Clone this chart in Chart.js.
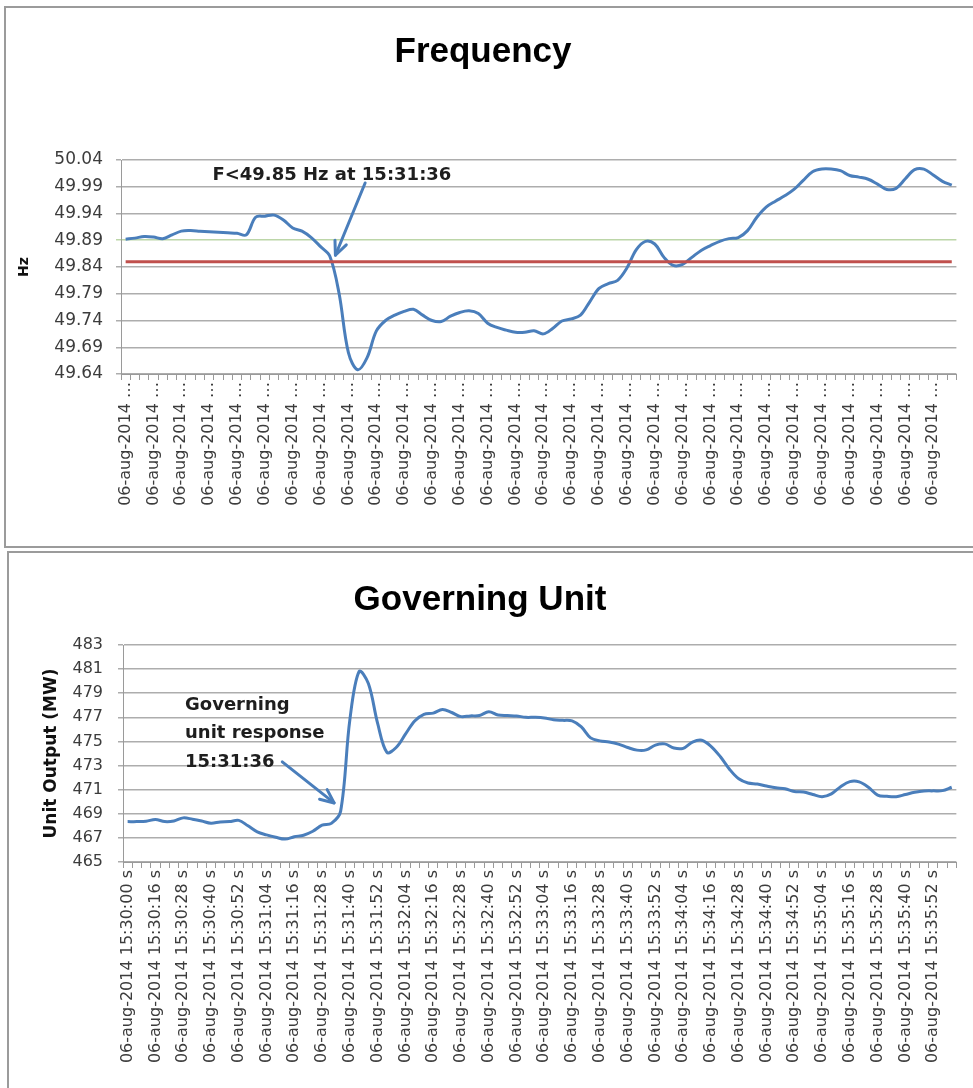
<!DOCTYPE html>
<html><head><meta charset="utf-8">
<script src="https://cdn.jsdelivr.net/npm/chart.js@4.4.1/dist/chart.umd.min.js"></script>
<style>
html,body{margin:0;padding:0;background:#fff;width:973px;height:1088px;overflow:hidden;position:relative}
canvas{position:absolute;left:0}
#c1{top:0}
#c2{top:548px}
.frame{position:absolute;border:2px solid #9b9b9b;pointer-events:none}
#f1{left:4px;top:6px;width:990px;height:538px}
#f2{left:7px;top:551px;width:990px;height:560px}
</style></head><body>
<canvas id="c1" width="973" height="548"></canvas>
<canvas id="c2" width="973" height="540"></canvas>
<div class="frame" id="f1"></div><div class="frame" id="f2"></div>
<script>
// ---- tick labels (one every 3 samples) ----
const tickLabels = [
 '06-aug-2014 15:30:00 s','06-aug-2014 15:30:16 s','06-aug-2014 15:30:28 s','06-aug-2014 15:30:40 s','06-aug-2014 15:30:52 s',
 '06-aug-2014 15:31:04 s','06-aug-2014 15:31:16 s','06-aug-2014 15:31:28 s','06-aug-2014 15:31:40 s','06-aug-2014 15:31:52 s',
 '06-aug-2014 15:32:04 s','06-aug-2014 15:32:16 s','06-aug-2014 15:32:28 s','06-aug-2014 15:32:40 s','06-aug-2014 15:32:52 s',
 '06-aug-2014 15:33:04 s','06-aug-2014 15:33:16 s','06-aug-2014 15:33:28 s','06-aug-2014 15:33:40 s','06-aug-2014 15:33:52 s',
 '06-aug-2014 15:34:04 s','06-aug-2014 15:34:16 s','06-aug-2014 15:34:28 s','06-aug-2014 15:34:40 s','06-aug-2014 15:34:52 s',
 '06-aug-2014 15:35:04 s','06-aug-2014 15:35:16 s','06-aug-2014 15:35:28 s','06-aug-2014 15:35:40 s','06-aug-2014 15:35:52 s'
];
const samplesPerLabel = 3;

// ---- frequency (Hz) ----
const freqHz = [
 49.892,49.894,49.897,49.896,49.893,49.900,49.907,49.908,49.907,49.906,
 49.905,49.904,49.903,49.900,49.933,49.935,49.937,49.928,49.913,49.907,
 49.895,49.878,49.860,49.790,49.680,49.648,49.670,49.720,49.740,49.750,
 49.757,49.761,49.750,49.740,49.738,49.748,49.755,49.758,49.753,49.735,
 49.727,49.722,49.718,49.718,49.721,49.715,49.725,49.739,49.743,49.750,
 49.775,49.800,49.809,49.815,49.838,49.872,49.888,49.883,49.858,49.843,
 49.845,49.858,49.871,49.880,49.888,49.893,49.895,49.908,49.933,49.952,
 49.963,49.973,49.985,50.002,50.018,50.023,50.023,50.020,50.011,50.008,
 50.004,49.995,49.985,49.987,50.005,50.022,50.023,50.012,50.000,49.993
];
const thresholdHz = 49.85;

// ---- governing unit output (MW) ----
const unitMW = [
 468.35,468.35,468.38,468.53,468.35,468.40,468.66,468.55,468.40,468.22,
 468.32,468.35,468.45,468.00,467.50,467.25,467.05,466.90,467.10,467.22,
 467.55,468.05,468.20,469.20,476.80,480.80,479.80,476.50,474.10,474.50,
 475.60,476.70,477.25,477.35,477.65,477.40,477.06,477.12,477.15,477.47,
 477.20,477.15,477.11,477.00,477.00,476.95,476.80,476.75,476.70,476.20,
 475.30,475.05,474.95,474.78,474.50,474.28,474.30,474.70,474.80,474.45,
 474.43,474.95,475.10,474.60,473.75,472.70,471.90,471.55,471.47,471.30,
 471.15,471.07,470.84,470.80,470.60,470.42,470.65,471.25,471.67,471.65,
 471.20,470.55,470.45,470.42,470.60,470.78,470.89,470.90,470.92,471.20
];

const categories = [];
for (let i = 0; i < tickLabels.length * samplesPerLabel; i++) {
  categories.push(i % samplesPerLabel === 0 ? tickLabels[i / samplesPerLabel] : '');
}

const BLUE = '#4a7ebb', RED = '#c0504d', GRID = '#adadad', AXIS = '#9a9a9a', TXT = '#3c3c3c';

const annot = {
  id: 'annot',
  afterDatasetsDraw(chart, args, o) {
    const {ctx, scales: {x, y}} = chart;
    ctx.save();
    ctx.font = o.font; ctx.fillStyle = '#1e1e1e';
    ctx.textBaseline = 'middle'; ctx.textAlign = 'left';
    const tx = x.getPixelForValue(o.textAt[0]), ty = y.getPixelForValue(o.textAt[1]);
    o.lines.forEach((l, k) => ctx.fillText(l, tx, ty + k * o.lineGap));
    const x0 = x.getPixelForValue(o.from[0]), y0 = y.getPixelForValue(o.from[1]);
    const x1 = x.getPixelForValue(o.to[0]), y1 = y.getPixelForValue(o.to[1]);
    ctx.strokeStyle = BLUE; ctx.lineWidth = 3; ctx.lineCap = 'round'; ctx.lineJoin = 'round';
    ctx.beginPath(); ctx.moveTo(x0, y0); ctx.lineTo(x1, y1); ctx.stroke();
    const ang = Math.atan2(y1 - y0, x1 - x0), L = 15, a = 0.42;
    ctx.beginPath();
    ctx.moveTo(x1 - L * Math.cos(ang - a), y1 - L * Math.sin(ang - a));
    ctx.lineTo(x1, y1);
    ctx.lineTo(x1 - L * Math.cos(ang + a), y1 - L * Math.sin(ang + a));
    ctx.stroke();
    ctx.restore();
  }
};

function xScale(height, truncate) {
  return {
    offset: true,
    grid: {offset: true, drawOnChartArea: false, drawTicks: true, tickLength: 6, color: AXIS},
    border: {display: true, color: AXIS, width: 1},
    ticks: {
      autoSkip: false, minRotation: 90, maxRotation: 90, padding: 2, color: TXT,
      font: {family: 'DejaVu Sans', size: 16},
      callback: function (v) {
        const l = this.getLabelForValue(v);
        if (!l) return '';
        return truncate ? l.slice(0, 11) + ' \u2026' : l;
      }
    },
    afterFit: s => { s.height = height; }
  };
}

new Chart(document.getElementById('c1'), {
  type: 'line',
  data: {labels: categories, datasets: [
    {data: freqHz, borderColor: BLUE, borderWidth: 3, pointRadius: 0, tension: 0.35, order: 1},
    {data: categories.map(() => thresholdHz), borderColor: RED, borderWidth: 3, pointRadius: 0, tension: 0, order: 0}
  ]},
  plugins: [annot],
  options: {
    responsive: false, animation: false, events: [],
    layout: {padding: {left: 0, right: 7, top: 0, bottom: 0}},
    plugins: {
      legend: {display: false}, tooltip: {enabled: false},
      title: {display: true, text: 'Frequency', color: '#000',
        font: {family: 'Liberation Sans', size: 35, weight: 'bold'}, padding: {top: 31, bottom: 87}},
      annot: {font: 'bold 18px "DejaVu Sans"', lines: ['F<49.85 Hz at 15:31:36'], lineGap: 0,
        textAt: [9.35, 50.012], from: [25.8, 49.997], to: [22.6, 49.862]}
    },
    scales: {
      x: xScale(174, true),
      y: {
        min: 49.64, max: 50.04,
        grid: {color: c => (c.tick && Math.abs(c.tick.value - 49.89) < 1e-6) ? '#bcd6a8' : GRID, lineWidth: 1.5, tickLength: 5},
        border: {display: true, color: AXIS, width: 1},
        ticks: {stepSize: 0.05, padding: 13, color: TXT, font: {family: 'DejaVu Sans', size: 17},
          callback: v => Number(v).toFixed(2)},
        title: {display: true, text: 'Hz', color: '#111', font: {family: 'DejaVu Sans', size: 14, weight: 'bold'}, padding: {top: 16, bottom: 0}},
        afterFit: s => { s.width = 121; }
      }
    }
  }
});

new Chart(document.getElementById('c2'), {
  type: 'line',
  data: {labels: categories, datasets: [
    {data: unitMW, borderColor: BLUE, borderWidth: 3, pointRadius: 0, tension: 0.35}
  ]},
  plugins: [annot],
  options: {
    responsive: false, animation: false, events: [],
    layout: {padding: {left: 0, right: 13, top: 0, bottom: 0}},
    plugins: {
      legend: {display: false}, tooltip: {enabled: false},
      title: {display: true, text: 'Governing Unit', color: '#000',
        font: {family: 'Liberation Sans', size: 35, weight: 'bold'}, padding: {top: 31, bottom: 24}},
      annot: {font: 'bold 18px "DejaVu Sans"', lines: ['Governing', 'unit response', '15:31:36'], lineGap: 28.5,
        textAt: [6.2, 478.0], from: [16.7, 473.3], to: [22.3, 469.9]}
    },
    scales: {
      x: xScale(226, false),
      y: {
        min: 465, max: 483,
        grid: {color: GRID, lineWidth: 1.5, tickLength: 5},
        border: {display: true, color: AXIS, width: 1},
        ticks: {stepSize: 2, padding: 15, color: TXT, font: {family: 'DejaVu Sans', size: 16}},
        title: {display: true, text: 'Unit Output (MW)', color: '#111', font: {family: 'DejaVu Sans', size: 17, weight: 'bold'}, padding: {top: 41, bottom: 0}},
        afterFit: s => { s.width = 123; }
      }
    }
  }
});
</script>
</body></html>
